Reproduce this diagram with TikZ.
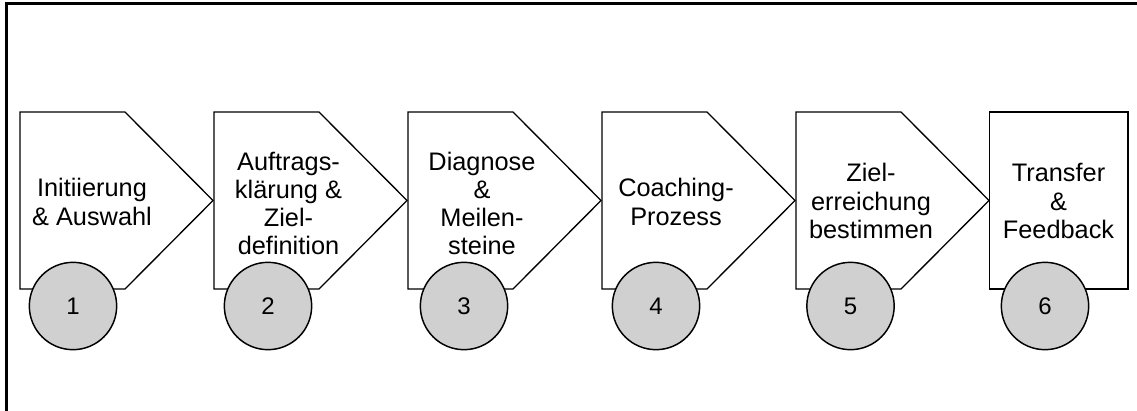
\documentclass[tikz,border=0pt]{standalone}
\usepackage{fontspec}
\setmainfont{Liberation Sans}
\definecolor{circgray}{RGB}{208,208,208}
\tikzset{
  stepshape/.style={draw=black, line width=1pt, fill=white, line join=miter},
  steptext/.style={align=center, inner sep=0pt, font=\fontsize{19}{21.2}\selectfont},
  numcirc/.style={circle, draw=black, line width=1.1pt, fill=circgray, minimum size=65.5pt, inner sep=0pt, font=\fontsize{18}{20}\selectfont},
  frame/.style={draw=black, line width=2pt}
}
\begin{document}
\begin{tikzpicture}[x=0.75pt,y=-0.75pt]
\useasboundingbox (0,0) rectangle (1137,410);
\begin{scope}
\clip (0,0) rectangle (1137,410);
\draw[frame] (6.5,3.5) rectangle (1160,430);
\end{scope}
% arrow shapes
\foreach \L in {20,214,408,602,796}{
  \draw[stepshape] (\L,112) -- (\L+105,112) -- (\L+193,200.5) -- (\L+105,289) -- (\L,289) -- cycle;
}
\draw[stepshape] (989.5,112) rectangle (1128,289);
% texts
\node[steptext] (t1) at (92,202) {Initiierung\\\& Auswahl};
\node[steptext] (t2) at (288.5,203.5) {Auftrags-\\klärung \&\\Ziel-\\definition};
\node[steptext] (t3) at (482,203.5) {Diagnose\\\&\\Meilen-\\steine};
\node[steptext] (t4) at (676,202) {Coaching-\\Prozess};
\node[steptext] (t5) at (871,201) {Ziel-\\erreichung\\bestimmen};
\node[steptext] (t6) at (1058.5,201) {Transfer\\\&\\Feedback};
% circles
\node[numcirc] (c1) at (73,306) {1};
\node[numcirc] (c2) at (268,306) {2};
\node[numcirc] (c3) at (464,306) {3};
\node[numcirc] (c4) at (656,306) {4};
\node[numcirc] (c5) at (850.5,306) {5};
\node[numcirc] (c6) at (1045,306) {6};
\end{tikzpicture}
\end{document}
